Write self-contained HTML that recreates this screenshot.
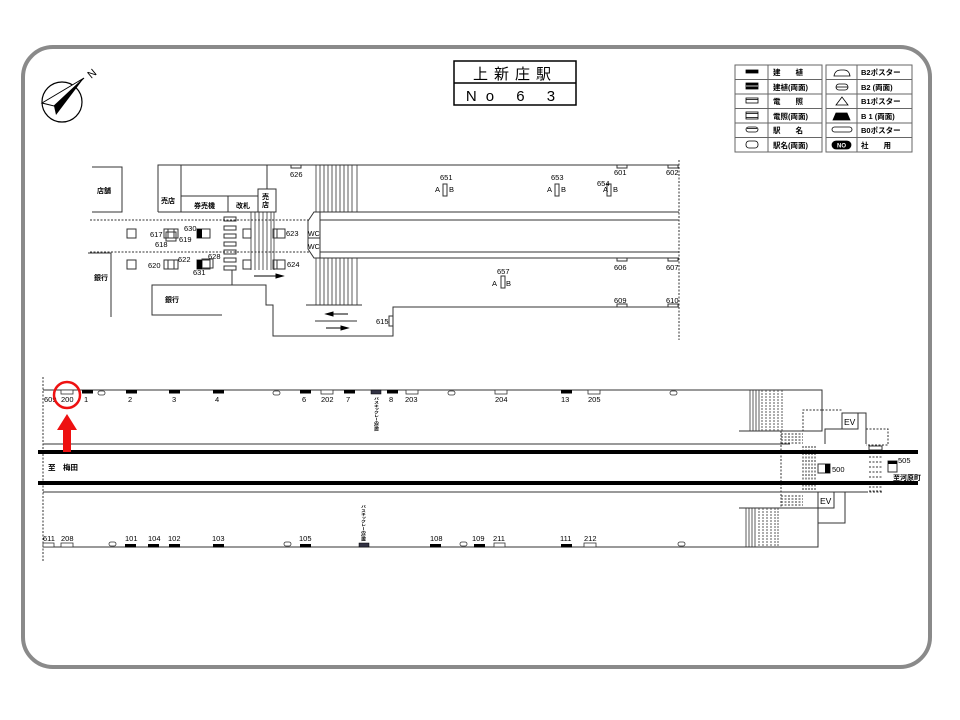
<!DOCTYPE html>
<html><head><meta charset="utf-8"><style>
html,body{margin:0;padding:0;background:#fff;}
svg{display:block;font-family:"Liberation Sans","Noto Sans CJK JP",sans-serif;}
</style></head><body>
<svg width="960" height="720" viewBox="0 0 960 720" xmlns="http://www.w3.org/2000/svg">
<rect x="0" y="0" width="960" height="720" fill="#fff"/>
<rect x="23" y="47" width="907" height="620" rx="30" ry="30" fill="none" stroke="#8a8a8a" stroke-width="4"/>

<!-- compass -->
<circle cx="62" cy="102" r="20" fill="none" stroke="#000" stroke-width="1.2"/>
<polygon points="84,78 42,103 54,106" fill="#fff" stroke="#000" stroke-width="1"/>
<polygon points="84,78 54,106 56,115" fill="#000"/>
<text x="88" y="78" font-size="11" transform="rotate(-40 91 74)">N</text>

<!-- title -->
<g stroke="#000" stroke-width="1.5" fill="none">
<rect x="454" y="61" width="122" height="44"/><line x1="454" y1="83" x2="576" y2="83"/>
</g>
<text x="515" y="79" font-size="15" text-anchor="middle" letter-spacing="6">上新庄駅</text>
<text x="515" y="101" font-size="15" text-anchor="middle" letter-spacing="9">No 6 3</text>

<!-- legend -->
<g stroke="#666" stroke-width="1" fill="none">
<rect x="735" y="65" width="87" height="87"/><line x1="768" y1="65" x2="768" y2="152"/>
<line x1="735" y1="79.5" x2="822" y2="79.5"/><line x1="735" y1="94" x2="822" y2="94"/><line x1="735" y1="108.5" x2="822" y2="108.5"/><line x1="735" y1="123" x2="822" y2="123"/><line x1="735" y1="137.5" x2="822" y2="137.5"/>
<rect x="826" y="65" width="86" height="87"/><line x1="857" y1="65" x2="857" y2="152"/>
<line x1="826" y1="79.5" x2="912" y2="79.5"/><line x1="826" y1="94" x2="912" y2="94"/><line x1="826" y1="108.5" x2="912" y2="108.5"/><line x1="826" y1="123" x2="912" y2="123"/><line x1="826" y1="137.5" x2="912" y2="137.5"/>
</g>
<g font-size="7.5" font-weight="bold">
<text x="773" y="75">建　　植</text><text x="773" y="90">建植(両面)</text><text x="773" y="104">電　　照</text><text x="773" y="119">電照(両面)</text><text x="773" y="133">駅　　名</text><text x="773" y="148">駅名(両面)</text>
<text x="861" y="75">B2ポスター</text><text x="861" y="90">B2 (両面)</text><text x="861" y="104">B1ポスター</text><text x="861" y="119">B 1 (両面)</text><text x="861" y="133">B0ポスター</text><text x="861" y="148">社　　用</text>
</g>
<g stroke="#000" stroke-width="0.8">
<rect x="746" y="70" width="12" height="3" fill="#000"/>
<rect x="746" y="83" width="12" height="6" fill="#000"/><line x1="746" y1="86" x2="758" y2="86" stroke="#fff"/>
<rect x="746" y="98" width="12" height="5" fill="#fff"/><line x1="746" y1="99.5" x2="758" y2="99.5"/>
<rect x="746" y="112" width="12" height="7" fill="#fff"/><line x1="746" y1="113.5" x2="758" y2="113.5"/><line x1="746" y1="117.5" x2="758" y2="117.5"/>
<rect x="746" y="127" width="12" height="5" rx="2.5" fill="#fff"/><line x1="747" y1="128.5" x2="757" y2="128.5"/>
<rect x="746" y="141" width="12" height="7" rx="3" fill="#fff"/>
<path d="M834,76 Q835,70 841,70 L844,70 Q849,70 850,76 Z" fill="#fff"/>
<rect x="836" y="84" width="12" height="6" rx="3" fill="#fff"/><line x1="836" y1="87" x2="848" y2="87"/>
<polygon points="842,97 836,105 848,105" fill="#fff"/>
<path d="M833,120 L836,113 L847,113 L850,120 Z" fill="#000"/>
<rect x="832" y="127" width="20" height="5" rx="2.5" fill="#fff"/>
<rect x="832" y="141" width="19" height="8" rx="4" fill="#000"/>
</g>
<text x="841.5" y="147.5" font-size="6" fill="#fff" text-anchor="middle" font-weight="bold">NO</text>

<!-- upper plan -->
<g stroke="#333" stroke-width="1" fill="none">
<polyline points="92,167 122,167 122,212 92,212"/>
<polyline points="158,212 158,165 679,165"/>
<line x1="181" y1="165" x2="181" y2="212"/>
<line x1="181" y1="196" x2="258" y2="196"/>
<line x1="228" y1="196" x2="228" y2="212"/>
<line x1="158" y1="212" x2="258" y2="212"/>
<line x1="267" y1="165" x2="267" y2="189"/>
<rect x="258" y="189" width="18" height="23"/>
<line x1="90" y1="220" x2="310" y2="220" stroke-dasharray="2,1.5"/>
<line x1="90" y1="252" x2="310" y2="252" stroke-dasharray="2,1.5"/>
<polyline points="88,253 111,253 111,317"/>
<polyline points="222,315 152,315 152,285 266,285 266,305 273,305 273,336 393,336 393,307 679,307"/>
<line x1="232" y1="270" x2="232" y2="285"/>
<line x1="679" y1="160" x2="679" y2="340" stroke-dasharray="2,1.5"/>
<line x1="320" y1="212" x2="679" y2="212"/><line x1="320" y1="220" x2="679" y2="220"/>
<line x1="320" y1="252" x2="679" y2="252"/><line x1="320" y1="258" x2="679" y2="258"/>
<polygon points="314,212 320,212 320,258 314,258 308,249 308,221"/>
<line x1="308" y1="238" x2="320" y2="238"/>
<line x1="306" y1="305" x2="362" y2="305"/>
<line x1="315" y1="321" x2="357" y2="321"/>
<rect x="389" y="316" width="4" height="10"/>
<rect x="127" y="229" width="9" height="9"/><rect x="127" y="260" width="9" height="9"/>
<rect x="243" y="229" width="8" height="9"/><rect x="243" y="260" width="8" height="9"/>
<rect x="164" y="229" width="14" height="9"/><line x1="168" y1="229" x2="168" y2="238"/><line x1="174" y1="229" x2="174" y2="238"/>
<rect x="166" y="232" width="10" height="9"/>
<rect x="164" y="260" width="14" height="9"/><line x1="168" y1="260" x2="168" y2="269"/><line x1="174" y1="260" x2="174" y2="269"/>
<rect x="197" y="229" width="13" height="9"/>
<rect x="197" y="260" width="13" height="9"/><rect x="202" y="259" width="11" height="9"/>
<rect x="273" y="229" width="12" height="9"/><line x1="277" y1="229" x2="277" y2="238"/>
<rect x="273" y="260" width="12" height="9"/><line x1="277" y1="260" x2="277" y2="269"/>
<rect x="224" y="217" width="12" height="4"/><rect x="224" y="226" width="12" height="4"/><rect x="224" y="234" width="12" height="4"/><rect x="224" y="242" width="12" height="4"/><rect x="224" y="250" width="12" height="4"/><rect x="224" y="258" width="12" height="4"/><rect x="224" y="266" width="12" height="4"/>
<rect x="291" y="165" width="10" height="3"/>
<rect x="617" y="165" width="10" height="3"/><rect x="668" y="165" width="10" height="3"/>
<rect x="617" y="258" width="10" height="3"/><rect x="668" y="258" width="10" height="3"/>
<rect x="617" y="304" width="10" height="3"/><rect x="668" y="304" width="10" height="3"/>
<rect x="443" y="184" width="4" height="12"/><rect x="555" y="184" width="4" height="12"/><rect x="607" y="184" width="4" height="12"/><rect x="501" y="276" width="4" height="12"/>
</g>
<g fill="#000"><rect x="197" y="229" width="5" height="9"/><rect x="197" y="260" width="5" height="9"/></g>
<g stroke="#333" stroke-width="0.8">
<path d="M251,212V270M255,212V270M259,212V270M263,212V270M267,212V270M271,212V270M274,212V270"/>
<path d="M316,165V212M320,165V212M324,165V212M328,165V212M332,165V212M336,165V212M340,165V212M344,165V212M348,165V212M352,165V212M357,165V212"/>
<path d="M316,258V305M320,258V305M324,258V305M328,258V305M332,258V305M336,258V305M340,258V305M344,258V305M348,258V305M352,258V305M357,258V305"/>
</g>
<g stroke="#000" stroke-width="1" fill="#000">
<line x1="254" y1="276" x2="278" y2="276"/><polygon points="283,276 276,274 276,278"/>
<line x1="331" y1="314" x2="348" y2="314"/><polygon points="326,314 333,312 333,316"/>
<line x1="326" y1="328" x2="343" y2="328"/><polygon points="348,328 341,326 341,330"/>
</g>
<g font-size="7.5">
<text x="97" y="193" font-size="7" font-weight="bold">店舗</text>
<text x="161" y="203" font-weight="bold" font-size="7">売店</text>
<text x="194" y="208" font-size="7" font-weight="bold">券売機</text>
<text x="236" y="208" font-size="7" font-weight="bold">改札</text>
<text x="262" y="199" font-size="7" font-weight="bold">売</text><text x="262" y="207" font-size="7" font-weight="bold">店</text>
<text x="94" y="280" font-size="7" font-weight="bold">銀行</text>
<text x="165" y="302" font-size="7" font-weight="bold">銀行</text>
<text x="308" y="236" font-size="7">WC</text><text x="308" y="249" font-size="7">WC</text>
<text x="290" y="177">626</text>
<text x="150" y="237">617</text><text x="179" y="242">619</text><text x="155" y="247">618</text><text x="184" y="231">630</text>
<text x="148" y="268">620</text><text x="178" y="262">622</text><text x="208" y="259">628</text><text x="193" y="275">631</text>
<text x="286" y="236">623</text><text x="287" y="267">624</text>
<text x="440" y="180">651</text><text x="435" y="192">A</text><text x="449" y="192">B</text>
<text x="551" y="180">653</text><text x="547" y="192">A</text><text x="561" y="192">B</text>
<text x="597" y="186">654</text><text x="603" y="192">A</text><text x="613" y="192">B</text>
<text x="614" y="175">601</text><text x="666" y="175">602</text>
<text x="614" y="270">606</text><text x="666" y="270">607</text>
<text x="614" y="303">609</text><text x="666" y="303">610</text>
<text x="497" y="274">657</text><text x="492" y="286">A</text><text x="506" y="286">B</text>
<text x="376" y="324">615</text>
</g>

<!-- lower platform -->
<g stroke="#333" stroke-width="1" fill="none">
<line x1="43" y1="377" x2="43" y2="562" stroke-dasharray="2,1.5"/>
<polyline points="43,390 822,390 822,431 739,431"/>
<line x1="43" y1="444" x2="790" y2="444"/>
<line x1="43" y1="492" x2="866" y2="492"/>
<polyline points="43,547 818,547 818,508 739,508"/>
<rect x="842" y="413" width="16" height="16"/>
<polyline points="858,413 866,413 866,444"/>
<polyline points="842,429 825,429 825,444"/>
<rect x="818" y="492" width="16" height="16"/>
<polyline points="834,492 845,492 845,523 818,523 818,508"/>
<g stroke-dasharray="2,1.5">
<polyline points="822,410 803,410 803,431"/>
<line x1="822" y1="410" x2="842" y2="410"/>
<polyline points="866,429 888,429 888,445 866,445"/>
<line x1="781" y1="431" x2="781" y2="508"/>
<line x1="866" y1="492" x2="882" y2="492"/>
<path d="M781,434H803M781,437H803M781,440H803M781,443H803M781,496H803M781,499H803M781,502H803M781,505H803"/>
<path d="M803,446V492M806,446V492M809,446V492M812,446V492M815,446V492"/>
<path d="M869,457H882M869,462H882M869,467H882M869,472H882M869,477H882M869,482H882M869,487H882M869,491H882"/>
</g>
<rect x="869" y="446" width="13" height="4"/>
<rect x="818" y="464" width="12" height="9"/>
<rect x="888" y="461" width="9" height="11"/>
</g>
<g stroke="#333" stroke-width="0.8">
<path d="M750,390V431M753,390V431M756,390V431M759,390V431"/>
<path d="M762,390V431M766,390V431M770,390V431M774,390V431M778,390V431M782,390V431" stroke-dasharray="2,1"/>
<path d="M746,508V547M749,508V547M752,508V547M755,508V547"/>
<path d="M759,508V547M763,508V547M767,508V547M771,508V547M775,508V547M778,508V547" stroke-dasharray="2,1"/>
</g>
<rect x="825" y="464" width="5" height="9" fill="#000"/>
<rect x="888" y="461" width="9" height="3" fill="#000"/>
<rect x="38" y="450" width="880" height="4" fill="#000"/>
<rect x="38" y="481" width="880" height="4" fill="#000"/>

<g fill="#000">
<rect x="82" y="390" width="11" height="3.5"/><rect x="126" y="390" width="11" height="3.5"/><rect x="169" y="390" width="11" height="3.5"/><rect x="213" y="390" width="11" height="3.5"/><rect x="300" y="390" width="11" height="3.5"/><rect x="344" y="390" width="11" height="3.5"/><rect x="387" y="390" width="11" height="3.5"/><rect x="561" y="390" width="11" height="3.5"/>
<rect x="125" y="544" width="11" height="3.5"/><rect x="148" y="544" width="11" height="3.5"/><rect x="169" y="544" width="11" height="3.5"/><rect x="213" y="544" width="11" height="3.5"/><rect x="300" y="544" width="11" height="3.5"/><rect x="430" y="544" width="11" height="3.5"/><rect x="474" y="544" width="11" height="3.5"/><rect x="561" y="544" width="11" height="3.5"/>
</g>
<rect x="371" y="390" width="10" height="4" fill="#334" stroke="#000" stroke-width="0.5"/>
<rect x="359" y="543" width="10" height="4" fill="#334" stroke="#000" stroke-width="0.5"/>
<g fill="#fff" stroke="#333" stroke-width="0.8">
<rect x="61" y="390" width="12" height="4"/><rect x="321" y="390" width="12" height="4"/><rect x="406" y="390" width="12" height="4"/><rect x="495" y="390" width="12" height="4"/><rect x="588" y="390" width="12" height="4"/>
<rect x="43" y="543" width="11" height="4"/><rect x="61" y="543" width="12" height="4"/><rect x="494" y="543" width="11" height="4"/><rect x="584" y="543" width="12" height="4"/>
<rect x="98" y="391" width="7" height="4" rx="2"/><rect x="273" y="391" width="7" height="4" rx="2"/><rect x="448" y="391" width="7" height="4" rx="2"/><rect x="670" y="391" width="7" height="4" rx="2"/>
<rect x="109" y="542" width="7" height="4" rx="2"/><rect x="284" y="542" width="7" height="4" rx="2"/><rect x="460" y="542" width="7" height="4" rx="2"/><rect x="678" y="542" width="7" height="4" rx="2"/>
</g>
<g font-size="7.5">
<text x="44" y="402">609</text><text x="61" y="402">200</text><text x="84" y="402">1</text><text x="128" y="402">2</text><text x="172" y="402">3</text><text x="215" y="402">4</text><text x="302" y="402">6</text><text x="321" y="402">202</text><text x="346" y="402">7</text><text x="389" y="402">8</text><text x="405" y="402">203</text><text x="495" y="402">204</text><text x="561" y="402">13</text><text x="588" y="402">205</text>
<text x="43" y="541">611</text><text x="61" y="541">208</text><text x="125" y="541">101</text><text x="148" y="541">104</text><text x="168" y="541">102</text><text x="212" y="541">103</text><text x="299" y="541">105</text><text x="430" y="541">108</text><text x="472" y="541">109</text><text x="493" y="541">211</text><text x="560" y="541">111</text><text x="584" y="541">212</text>
<text x="832" y="472">500</text><text x="898" y="463">505</text>
</g>
<text x="893" y="480" font-size="7" font-weight="bold">至河原町</text>
<text x="48" y="470" font-size="7.5" font-weight="bold">至　梅田</text>
<text x="844" y="425" font-size="8.5">EV</text><text x="820" y="504" font-size="8.5">EV</text>
<text font-size="5" font-weight="bold" writing-mode="tb" x="376" y="397" textLength="34" lengthAdjust="spacingAndGlyphs">バスキックレーの位置</text>
<text font-size="5" font-weight="bold" writing-mode="tb" x="363" y="505" textLength="36" lengthAdjust="spacingAndGlyphs">バスキックレーの位置</text>

<circle cx="67" cy="395" r="13" fill="none" stroke="#e11" stroke-width="2.5"/>
<rect x="63" y="428" width="8" height="24" fill="#e11"/>
<polygon points="57,430 67,414 77,430" fill="#e11"/>
</svg>
</body></html>
